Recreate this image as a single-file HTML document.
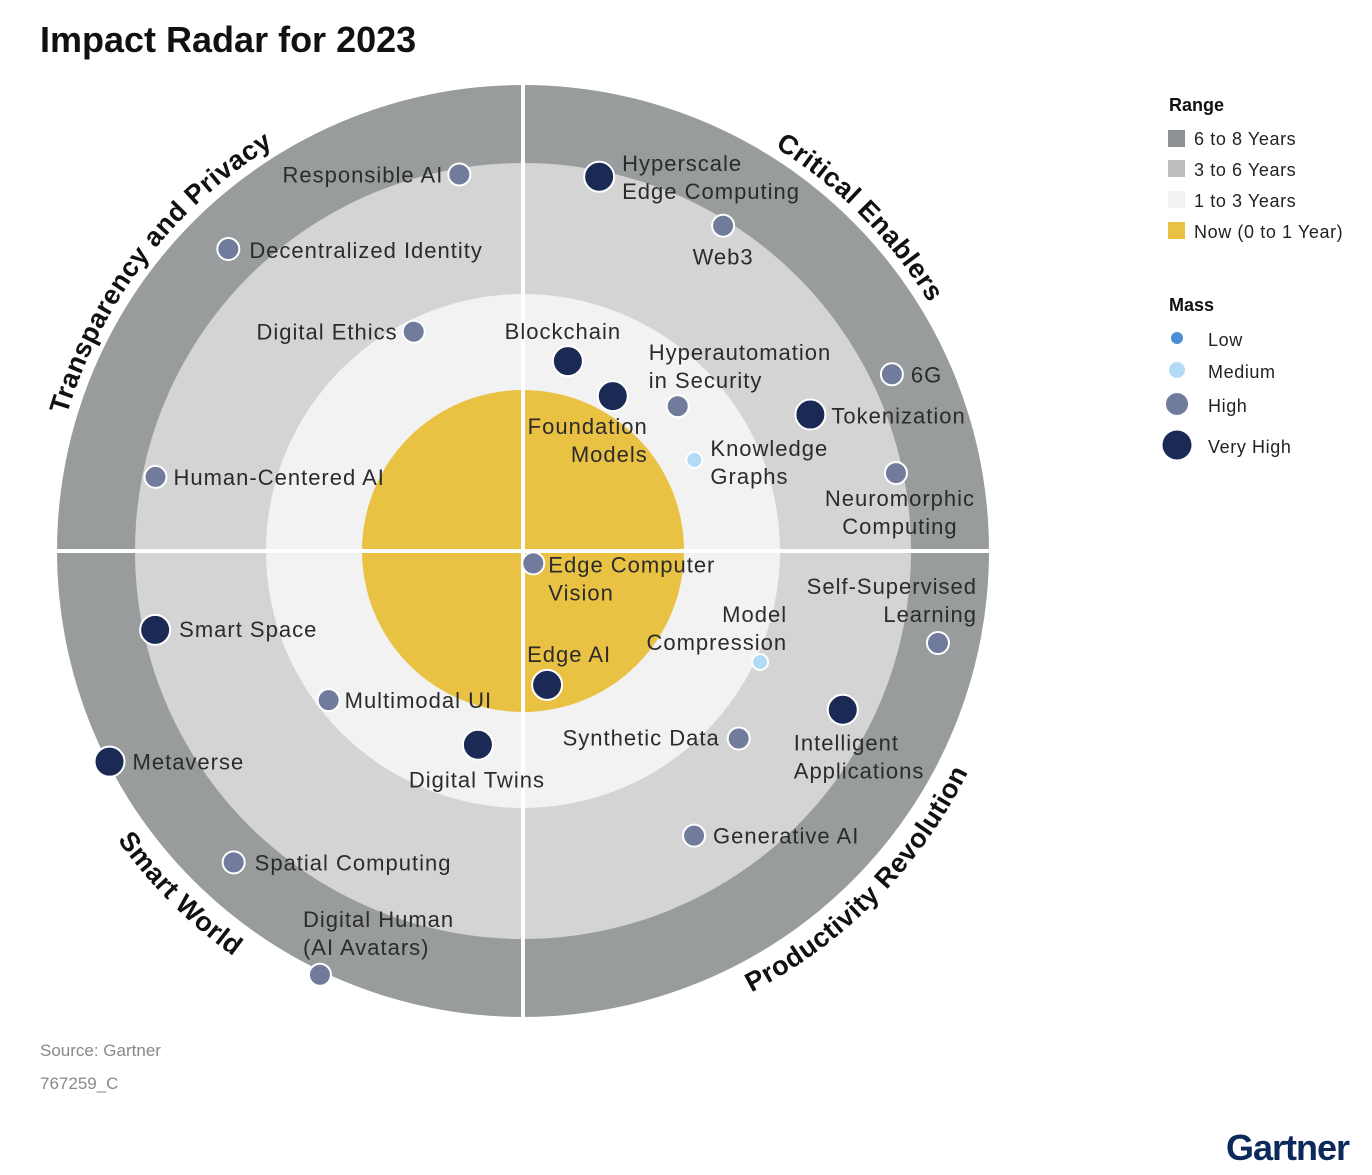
<!DOCTYPE html>
<html><head><meta charset="utf-8"><style>
body{margin:0;background:#fff;}
svg{display:block;font-family:"Liberation Sans",sans-serif;}
.lbl{font-size:22px;fill:#2b2b2b;letter-spacing:1px;}
.qt{font-size:27px;font-weight:bold;fill:#111;letter-spacing:0.5px;}
.lg{font-size:18px;fill:#222;letter-spacing:0.6px;}
</style></head><body>
<svg id="chart" width="1372" height="1175" viewBox="0 0 1372 1175">
<text x="40" y="52" font-size="36" font-weight="bold" fill="#111">Impact Radar for 2023</text>
<g id="rings"></g>
<g id="titles"></g>
<g id="points"></g>
<g>
<text x="1169" y="111" font-size="18" font-weight="bold" fill="#111">Range</text>
<rect x="1168" y="130" width="17" height="17" fill="#8f9294"/><text class="lg" x="1194" y="145">6 to 8 Years</text>
<rect x="1168" y="160" width="17" height="17" fill="#bdbdbd"/><text class="lg" x="1194" y="176">3 to 6 Years</text>
<rect x="1168" y="191" width="17" height="17" fill="#f2f2f2"/><text class="lg" x="1194" y="207">1 to 3 Years</text>
<rect x="1168" y="222" width="17" height="17" fill="#e9c244"/><text class="lg" x="1194" y="238">Now (0 to 1 Year)</text>
<text x="1169" y="311" font-size="18" font-weight="bold" fill="#111">Mass</text>
<circle cx="1177" cy="338" r="6" fill="#4a8fd6"/><text class="lg" x="1208" y="346">Low</text>
<circle cx="1177" cy="370" r="8" fill="#b2dcf5"/><text class="lg" x="1208" y="378">Medium</text>
<circle cx="1177" cy="404" r="11" fill="#717b9c"/><text class="lg" x="1208" y="412">High</text>
<circle cx="1177" cy="445" r="14.5" fill="#1b2a55"/><text class="lg" x="1208" y="453">Very High</text>
</g>
<text x="40" y="1056" font-size="17" fill="#888">Source: Gartner</text>
<text x="40" y="1089" font-size="17" fill="#888">767259_C</text>
<text x="1226" y="1160" font-size="36" font-weight="bold" fill="#0b2a5b" letter-spacing="-1">Gartner</text>
</svg>
<script>
const names=["Responsible AI","Decentralized Identity","Digital Ethics","Human-Centered AI","Hyperscale|Edge Computing","Web3","Blockchain","Foundation|Models","Hyperautomation|in Security","Knowledge|Graphs","6G","Tokenization","Neuromorphic|Computing","Edge Computer|Vision","Edge AI","Model|Compression","Self-Supervised|Learning","Intelligent|Applications","Synthetic Data","Generative AI","Smart Space","Multimodal UI","Digital Twins","Metaverse","Spatial Computing","Digital Human|(AI Avatars)"];
const angles=[350.4,315.7,333.5,281.4,11.5,31.6,13.3,30.1,46.9,62,64.4,64.6,78.2,140.2,169.8,115.1,102.5,116.4,131,149,257.9,232.5,193.1,243,222.9,205.6];
const years=[5.86,6.87,2.75,5.70,5.86,5.86,1.71,1.375,2.06,1.69,6.54,4.40,5.84,0.1,0.845,3.11,6.95,5.29,3.66,4.72,5.73,2.75,1.79,7.95,6.95,8.1];
const mass=["High","High","High","High","Very High","High","Very High","Very High","High","Medium","High","Very High","High","High","Very High","Medium","High","Very High","High","High","Very High","High","Very High","Very High","High","High"];
const ringYears=[8,6,3,1];
const quadrants=["Transparency and Privacy","Critical Enablers","Productivity Revolution","Smart World"];
// layout (not data): label offsets relative to dot
const labelLayout=[[-16,8,"end"],[21,9,"start"],[-16,8,"end"],[18,8,"start"],[23,-6,"start"],[0,39,"middle"],[-5,-22,"middle"],[35,38,"end"],[-29,-46,"start"],[16,-4,"start"],[19,8,"start"],[21,9,"start"],[4,33,"middle"],[15,9,"start"],[-20,-23,"start"],[27,-40,"end"],[39,-49,"end"],[-49,41,"start"],[-19,7,"end"],[19,8,"start"],[24,7,"start"],[16,8,"start"],[-1,43,"middle"],[23,8,"start"],[21,8,"start"],[-17,-48,"start"]];
const CX=523,CY=551;
const yDom=[0,1,3,6,8],rRange=[0,161,257,388,466];
function rScale(y){for(let i=1;i<yDom.length;i++){if(y<=yDom[i]||i===yDom.length-1){return rRange[i-1]+(y-yDom[i-1])/(yDom[i]-yDom[i-1])*(rRange[i]-rRange[i-1]);}}}
function pos(a,r){const t=a*Math.PI/180;return [CX+r*Math.sin(t),CY-r*Math.cos(t)];}
const NS="http://www.w3.org/2000/svg";
function mk(tag,attrs,parent){const e=document.createElementNS(NS,tag);for(const k in attrs)e.setAttribute(k,attrs[k]);parent.appendChild(e);return e;}
const ringColors=["#999c9d","#d4d4d4","#f2f2f2","#e9c244"];
const ringNames=["ring-6-8-years","ring-3-6-years","ring-1-3-years","ring-now"];
const rg=document.getElementById('rings');
ringYears.forEach((y,i)=>{const c=mk('circle',{cx:CX,cy:CY,r:rScale(y),fill:ringColors[i]},rg);

});
const l1=mk('line',{x1:CX,y1:CY-rScale(8)-2,x2:CX,y2:CY+rScale(8)+2,stroke:'#fff','stroke-width':4},rg);


const l2=mk('line',{x1:CX-rScale(8)-2,y1:CY,x2:CX+rScale(8)+2,y2:CY,stroke:'#fff','stroke-width':4},rg);


const qLayout=[[307.5,476,false],[45.3,476,false],[134.5,497,true],[225,498,true]];
const tg=document.getElementById('titles');
const defs=mk('defs',{},tg);
quadrants.forEach((q,i)=>{const [ca,r,bottom]=qLayout[i];const span=60;
let a1,a2,sweep;
if(!bottom){a1=ca-span;a2=ca+span;sweep=1;}else{a1=ca+span;a2=ca-span;sweep=0;}
const p1=pos(a1,r),p2=pos(a2,r);
mk('path',{id:'qp'+i,d:`M${p1[0]},${p1[1]} A${r},${r} 0 0 ${sweep} ${p2[0]},${p2[1]}`,fill:'none'},defs);
const t=mk('text',{class:'qt'},tg);


const tp=mk('textPath',{href:'#qp'+i,startOffset:'50%','text-anchor':'middle'},t);tp.textContent=q;});
const massStyle={"Low":[6,"#4a8fd6"],"Medium":[8,"#b2dcf5"],"High":[11,"#717b9c"],"Very High":[15,"#1b2a55"]};
const pg=document.getElementById('points');
names.forEach((n,i)=>{const p=pos(angles[i],rScale(years[i]));const ms=massStyle[mass[i]];
const g=mk('g',{},pg);


mk('circle',{cx:p[0],cy:p[1],r:ms[0],fill:ms[1],stroke:'#fff','stroke-width':2},g);
const L=labelLayout[i];const t=mk('text',{class:'lbl',x:p[0]+L[0],y:p[1]+L[1],'text-anchor':L[2]},g);
n.split('|').forEach((s,j)=>{const ts=mk('tspan',{x:p[0]+L[0],dy:j?28:0},t);ts.textContent=s;});});
</script>
</body></html>
